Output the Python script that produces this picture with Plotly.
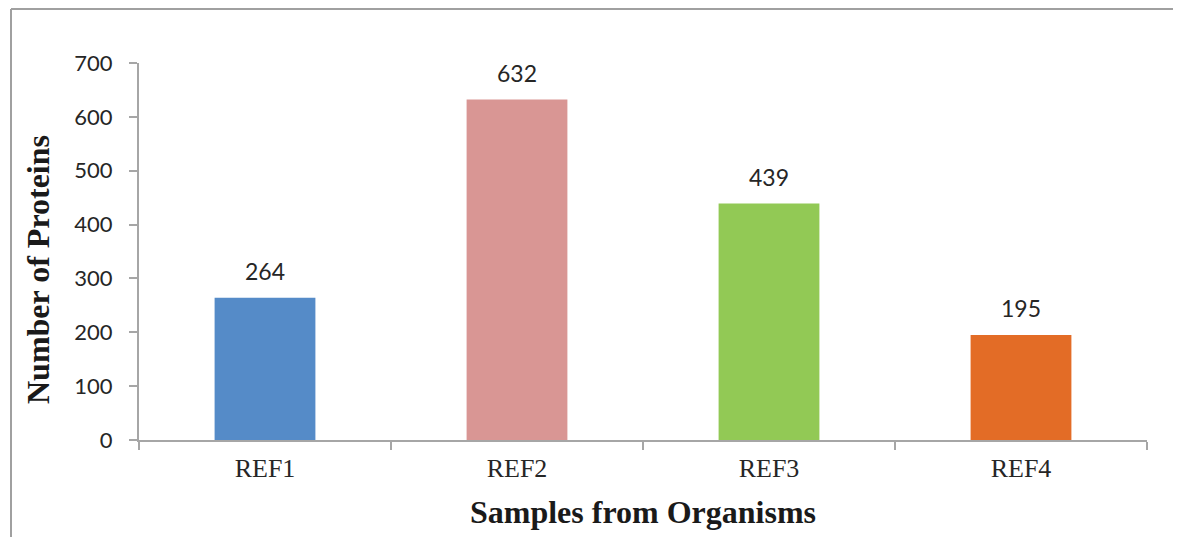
import plotly.graph_objects as go

categories = ["REF1", "REF2", "REF3", "REF4"]
values = [264, 632, 439, 195]
colors = ["#558BC8", "#D99694", "#92C955", "#E36C26"]
y_ticks = [0, 100, 200, 300, 400, 500, 600, 700]

fig = go.Figure()
fig.add_trace(go.Bar(x=categories, y=values, marker=dict(color=colors, line=dict(width=0)),
                     width=0.4, showlegend=False))

for c, v in zip(categories, values):
    fig.add_annotation(x=c, y=v, text=str(v), showarrow=False, yshift=27,
                       font=dict(family="Lato, Open Sans, sans-serif", size=23, color="#262626"))

axis_col = "#A6A6A6"
# page body has an 8px margin; figure is sized/positioned to compensate
W, H = 1173, 529
L, R, T, B = 131, 34, 55, 97
pw, ph = W - L - R, H - T - B

fig.update_layout(
    width=W, height=H,
    margin=dict(l=L, r=R, t=T, b=B),
    paper_bgcolor="white", plot_bgcolor="white",
    xaxis=dict(
        showline=True, linecolor=axis_col, linewidth=2,
        ticks="outside", ticklen=8, tickcolor=axis_col, tickwidth=2,
        tickson="boundaries", ticklabelstandoff=4,
        tickfont=dict(family="Liberation Serif, Times New Roman, serif", size=26, color="#262626"),
        title=dict(text="<b>Samples from Organisms</b>", standoff=18,
                   font=dict(family="Liberation Serif, Times New Roman, serif", size=32, color="#1a1a1a")),
        showgrid=False, automargin=False,
    ),
    yaxis=dict(
        range=[0, 700], tickvals=y_ticks,
        showline=True, linecolor=axis_col, linewidth=2,
        ticks="outside", ticklen=8, tickcolor=axis_col, tickwidth=2,
        ticklabelstandoff=12,
        tickfont=dict(family="Lato, Open Sans, sans-serif", size=22, color="#262626"),
        showgrid=False, zeroline=False, automargin=False,
    ),
)

# y-axis title (placed lower than plot centre, as in the reference)
fig.add_annotation(text="<b>Number of Proteins</b>", textangle=-90, showarrow=False,
                   xref="paper", yref="paper",
                   x=(30 - L) / pw, y=(H - B - 262) / ph, xanchor="center", yanchor="middle",
                   font=dict(family="Liberation Serif, Times New Roman, serif", size=32, color="#1a1a1a"))

# outer frame (top and left edges as in the reference)
fx = (3 - L) / pw
fy = (H - B - 1) / ph
fig.add_shape(type="line", xref="paper", yref="paper",
              x0=fx, x1=(W + 10 - L) / pw, y0=fy, y1=fy,
              line=dict(color="#A0A0A0", width=2))
fig.add_shape(type="line", xref="paper", yref="paper",
              x0=fx, x1=fx, y0=fy, y1=-(B + 10) / ph,
              line=dict(color="#A0A0A0", width=2))

fig.write_html("out.html")
